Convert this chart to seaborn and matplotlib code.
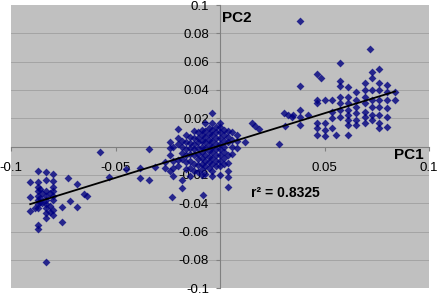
import numpy as np
import pandas as pd
import matplotlib
matplotlib.use("Agg")
import matplotlib.pyplot as plt
import seaborn as sns

# points, grouped as (PC1, [PC2 values at that PC1])
left_cols = [
    (-0.0908, [-0.0247, -0.0353, -0.0454]),
    (-0.0886, [-0.0431]),
    (-0.0873, [-0.0172, -0.0247, -0.0282, -0.0313, -0.0346, -0.0378, -0.0407, -0.0435, -0.0553, -0.0581]),
    (-0.0862, [-0.0300, -0.0360, -0.0390]),
    (-0.0852, [-0.0329, -0.0400]),
    (-0.0832, [-0.0181, -0.0235, -0.0313, -0.0346, -0.0378, -0.0407, -0.0435, -0.0470, -0.0501, -0.0812]),
    (-0.0815, [-0.0330, -0.0420, -0.0460]),
    (-0.0798, [-0.0195, -0.0242, -0.0282, -0.0313, -0.0346, -0.0378, -0.0447, -0.0482]),
    (-0.0757, [-0.0424, -0.0534]),
    (-0.0728, [-0.0223]),
    (-0.0717, [-0.0383]),
    (-0.0685, [-0.0261, -0.0424]),
    (-0.0653, [-0.0336]),
    (-0.0637, [-0.0346]),
    (-0.0574, [-0.0035]),
    (-0.0530, [-0.0212]),
    (-0.0450, [-0.0160]),
    (-0.0382, [-0.0152, -0.0223]),
]

mid_cols = [
    (-0.0338, [-0.0018, -0.0235]),
    (-0.0311, [-0.0145]),
    (-0.0263, [-0.0105, -0.0150]),
    (-0.0239, [0.0030, -0.0010, -0.0059, -0.0172]),
    (-0.0231, [-0.0353]),
    (-0.0223, [0.0000, -0.0100, -0.0150, -0.0210]),
    (-0.0201, [0.0124, 0.0060, 0.0020, -0.0095, -0.0140]),
    (-0.0182, [0.0040, 0.0000, -0.0045, -0.0090, -0.0235, -0.0290]),
    (-0.0163, [0.0080, 0.0030, -0.0020, -0.0060, -0.0110, -0.0160]),
    (-0.0143, [0.0070, 0.0025, -0.0010, -0.0050, -0.0100, -0.0150, -0.0210]),
    (-0.0124, [0.0110, 0.0060, 0.0020, -0.0020, -0.0060, -0.0120, -0.0170]),
    (-0.0105, [0.0100, 0.0060, 0.0030, -0.0010, -0.0050, -0.0090, -0.0130, -0.0180]),
    (-0.0086, [0.0120, 0.0080, 0.0040, 0.0000, -0.0040, -0.0080, -0.0120, -0.0160, -0.0200]),
    (-0.0080, [-0.0341]),
    (-0.0072, [0.0167, 0.0110, 0.0070, 0.0030, -0.0010, -0.0060, -0.0100, -0.0140, -0.0190]),
    (-0.0053, [0.0130, 0.0090, 0.0050, 0.0010, -0.0030, -0.0070, -0.0110, -0.0150]),
    (-0.0036, [0.0240, 0.0170, 0.0120, 0.0080, 0.0040, 0.0000, -0.0040, -0.0080, -0.0120, -0.0170, -0.0210]),
    (-0.0019, [0.0140, 0.0100, 0.0060, 0.0020, -0.0020, -0.0060, -0.0100, -0.0140]),
    (0.0000, [0.0170, 0.0140, 0.0100, 0.0060, 0.0020, -0.0020, -0.0060, -0.0100, -0.0140, -0.0200]),
    (0.0019, [0.0120, 0.0080, 0.0040, 0.0000, -0.0040, -0.0080, -0.0120]),
    (0.0040, [0.0110, 0.0070, 0.0030, -0.0060, -0.0115, -0.0172, -0.0212, -0.0282]),
    (0.0057, [0.0100, 0.0050, 0.0000, -0.0050]),
    (0.0080, [0.0083, 0.0040, -0.0010]),
    (0.0120, [0.0030]),
    (0.0152, [0.0165]),
    (0.0167, [0.0146]),
    (0.0188, [0.0123]),
]

right_cols = [
    (0.0282, [0.0019]),
    (0.0307, [0.0236]),
    (0.0311, [0.0146]),
    (0.0326, [0.0224]),
    (0.0343, [0.0212]),
    (0.0350, [0.0224]),
    (0.0382, [0.0890, 0.0429, 0.0259, 0.0212, 0.0153]),
    (0.0422, [0.0224]),
    (0.0462, [0.0513, 0.0330, 0.0306, 0.0165, 0.0130, 0.0083]),
    (0.0483, [0.0483]),
    (0.0502, [0.0330, 0.0165, 0.0118, 0.0076]),
    (0.0535, [0.0330, 0.0247, 0.0200, 0.0130]),
    (0.0556, [0.0083]),
    (0.0574, [0.0594, 0.0464, 0.0429, 0.0353, 0.0306, 0.0259, 0.0212]),
    (0.0613, [0.0419, 0.0353, 0.0306, 0.0259, 0.0224, 0.0188, 0.0153, 0.0083]),
    (0.0653, [0.0386, 0.0330, 0.0282, 0.0236, 0.0188, 0.0153]),
    (0.0693, [0.0448, 0.0400, 0.0353, 0.0306, 0.0247, 0.0212, 0.0165]),
    (0.0718, [0.0690]),
    (0.0725, [0.0527, 0.0483, 0.0400, 0.0330, 0.0282, 0.0224, 0.0188]),
    (0.0761, [0.0549, 0.0448, 0.0400, 0.0330, 0.0282, 0.0224, 0.0165, 0.0130]),
    (0.0801, [0.0436, 0.0386, 0.0330, 0.0271, 0.0212, 0.0141]),
    (0.0837, [0.0386, 0.0330]),
]

y_ticks = [-0.1, -0.08, -0.06, -0.04, -0.02, 0.02, 0.04, 0.06, 0.08, 0.1]
x_ticks = [-0.1, -0.05, 0.05, 0.1]
r2_label = "r² = 0.8325"

rows = []
for cols in (left_cols, mid_cols, right_cols):
    for x, ys in cols:
        for y in ys:
            rows.append((x, y))
df = pd.DataFrame(rows, columns=["PC1", "PC2"])

plt.rcParams["font.family"] = ["Liberation Sans", "DejaVu Sans"]

fig = plt.figure(figsize=(4.37, 2.95), dpi=100)
ax = fig.add_axes([11 / 437, 6.7 / 295, 418 / 437, 283.3 / 295])
ax.set_facecolor("#c0c0c0")

sns.regplot(data=df, x="PC1", y="PC2", ci=None, ax=ax, marker="D",
            scatter_kws={"s": 16, "color": "#000080", "linewidths": 0, "zorder": 2},
            line_kws={"color": "black", "lw": 1.3, "zorder": 3})

ax.set_xlim(-0.1, 0.1)
ax.set_ylim(-0.1, 0.1)
ax.set_axisbelow(True)

for y in np.arange(-0.08, 0.1, 0.02):
    ax.axhline(y, color="#a4a4a4", lw=0.7, zorder=0.3)

ax.spines["left"].set_position("zero")
ax.spines["bottom"].set_position("zero")
ax.spines["left"].set_color("#808080")
ax.spines["bottom"].set_color("#808080")
ax.spines["left"].set_zorder(0.6)
ax.spines["bottom"].set_zorder(0.6)
ax.spines["right"].set_visible(False)
ax.spines["top"].set_visible(False)

ax.set_xticks(x_ticks)
ax.set_xticklabels([f"{t:g}" for t in x_ticks])
ax.set_yticks(y_ticks)
ax.set_yticklabels([f"{t:g}" for t in y_ticks])
ax.tick_params(axis="x", length=3, color="#808080", pad=8, labelsize=9.5)
ax.tick_params(axis="y", length=3, color="#808080", pad=5, labelsize=9.5)
ax.set_xlabel("")
ax.set_ylabel("")

ax.text(0.0010, 0.0905, "PC2", fontsize=11, fontweight="bold", va="center", zorder=1)
ax.text(0.0902, -0.0059, "PC1", fontsize=11, fontweight="bold", va="center", ha="center", zorder=1)
ax.text(0.0150, -0.0325, r2_label, fontsize=10, fontweight="bold", va="center", zorder=1)

fig.savefig("out.png", dpi=100, facecolor="white")
